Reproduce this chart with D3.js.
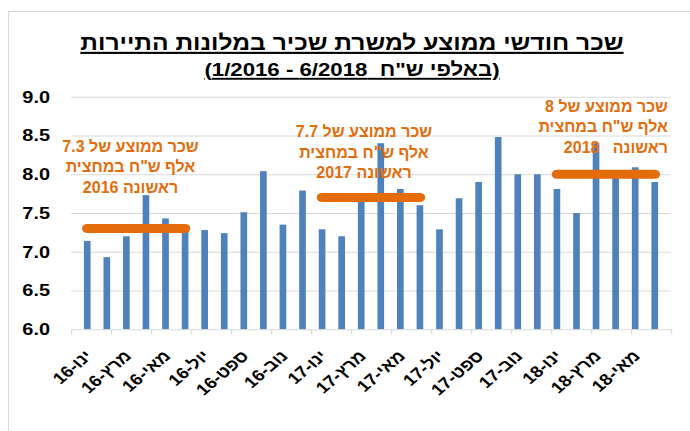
<!DOCTYPE html>
<html>
<head>
<meta charset="utf-8">
<script src="https://cdn.jsdelivr.net/npm/d3@7"></script>
<style>
  body { margin: 0; background: #fff; }
  text { font-family: "Liberation Sans", Arial, sans-serif; }
</style>
</head>
<body>
<div id="chart_div"></div>
<script>
// data
var months = ["ינו", "פבר", "מרץ", "אפר", "מאי", "יונ", "יול", "אוג", "ספט", "אוק", "נוב", "דצמ"];
var years = ["16", "17", "18"];
var categories = [];
years.forEach(function(yr) {
  months.forEach(function(m) { categories.push(m + "-" + yr); });
});
categories = categories.slice(0, 30); // 1/2016 - 6/2018

var wages = [7.14, 6.93, 7.20, 7.73, 7.43, 7.30, 7.28, 7.24, 7.51, 8.04, 7.35, 7.79,
             7.29, 7.20, 7.65, 8.40, 7.81, 7.60, 7.29, 7.69, 7.90, 8.48, 8.00, 8.00,
             7.81, 7.50, 8.40, 7.98, 8.09, 7.90];

// first-half averages
var avgValues = [7.3, 7.7, 8.0];
var avgFrom = ["ינו-16", "ינו-17", "ינו-18"];
var avgTo = ["יונ-16", "יונ-17", "יונ-18"];
var avgNotes = [
  ["שכר ממוצע של 7.3", "אלף ש\"ח במחצית", "ראשונה 2016"],
  ["שכר ממוצע של 7.7", "אלף ש\"ח במחצית", "ראשונה 2017"],
  ["שכר ממוצע של 8", "אלף ש\"ח במחצית", "ראשונה   2018"]
];

var yTicks = [6.0, 6.5, 7.0, 7.5, 8.0, 8.5, 9.0];
var titleText = "שכר חודשי ממוצע למשרת שכיר במלונות התיירות";
var subtitleText = "(באלפי ש\"ח  6/2018 - 1/2016)";

var data = categories.map(function(c, i) { return {cat: c, value: wages[i]}; });

// the chart part of the original is a bit stretched sideways
var S = 1.17;
function sx(px) { return px / S; }

var all_width = 690, all_height = 431;
var margin = {top: 96.7, right: 19, bottom: 101.7, left: 71};
var plotW = all_width - margin.left - margin.right,
    plotH = all_height - margin.top - margin.bottom;

var svg = d3.select("#chart_div")
  .append("svg")
    .attr("width", all_width)
    .attr("height", all_height);

// light frame like the excel chart area
svg.append("rect")
  .attr("x", 8.5).attr("y", 11.5)
  .attr("width", 720).attr("height", 440)
  .attr("fill", "#fff")
  .attr("stroke", "#d9d9d9");

var g = svg.append("g").attr("transform", "scale(" + S + ",1)");

var x = d3.scaleBand()
  .domain(categories)
  .range([sx(margin.left), sx(margin.left + plotW)])
  .padding(0.66);

var y = d3.scaleLinear()
  .domain([6, 9])
  .range([margin.top + plotH, margin.top]);

// gridlines
g.append("g")
  .attr("transform", "translate(" + sx(margin.left) + ",0)")
  .call(d3.axisLeft(y).tickValues(yTicks.slice(1)).tickSize(-sx(plotW)).tickFormat(""))
  .call(function(a) { a.select(".domain").remove(); })
  .selectAll("line").attr("stroke", "#d9d9d9");

// y labels
g.append("g")
  .attr("transform", "translate(" + sx(50) + ",0)")
  .call(d3.axisLeft(y).tickValues(yTicks).tickSize(0).tickPadding(0).tickFormat(d3.format(".1f")))
  .call(function(a) { a.select(".domain").remove(); })
  .selectAll("text")
    .attr("fill", "#000")
    .style("font-size", "17px")
    .style("font-weight", "bold")
    .style("font-family", "'Liberation Sans', Arial, sans-serif");

// bars
g.selectAll("bars")
  .data(data)
  .enter()
  .append("rect")
    .attr("x", function(d) { return x(d.cat); })
    .attr("width", x.bandwidth())
    .attr("y", function(d) { return y(d.value); })
    .attr("height", function(d) { return y(6) - y(d.value); })
    .attr("fill", "#4f81bd");

// x axis line with a tick every two months
var xi = d3.scaleLinear().domain([0, categories.length]).range(x.range());
g.append("g")
  .attr("transform", "translate(0," + y(6) + ")")
  .call(d3.axisBottom(xi).tickValues(d3.range(0, categories.length + 1, 2)).tickSize(5).tickSizeOuter(0).tickFormat(""))
  .call(function(a) {
    a.select(".domain").attr("stroke", "#d9d9d9");
    a.selectAll("line").attr("stroke", "#d9d9d9");
  });

// rotated month labels
g.selectAll("xlabels")
  .data(categories.filter(function(c, i) { return i % 2 === 0; }))
  .enter()
  .append("text")
    .attr("transform", function(d) {
      return "translate(" + (x(d) + x.bandwidth() / 2 + sx(6)) + ",357) rotate(-45)";
    })
    .attr("text-anchor", "end")
    .style("font-size", "16px")
    .style("font-weight", "bold")
    .attr("fill", "#000")
    .text(function(d) { return d; });

// average lines for the first half of each year
g.selectAll("avgLines")
  .data(avgValues)
  .enter()
  .append("line")
    .attr("x1", function(d, i) { return x(avgFrom[i]) + x.bandwidth() / 2; })
    .attr("x2", function(d, i) { return x(avgTo[i]) + x.bandwidth() / 2; })
    .attr("y1", function(d) { return y(d); })
    .attr("y2", function(d) { return y(d); })
    .attr("stroke", "#e46c0a")
    .attr("stroke-width", 9)
    .attr("stroke-linecap", "round");

// notes above the lines (text boxes, not stretched)
var notePos = [
  {x: 130.5, y: 151.5, anchor: "middle"},
  {x: 364, y: 137, anchor: "middle"},
  {x: 668, y: 111.7, anchor: "end"}
];
avgNotes.forEach(function(lines, i) {
  var t = svg.append("text")
    .attr("text-anchor", notePos[i].anchor)
    .attr("fill", "#e46c0a")
    .style("font-size", "16px")
    .style("font-weight", "bold")
    .style("white-space", "pre");
  lines.forEach(function(l, j) {
    t.append("tspan")
      .attr("x", notePos[i].x)
      .attr("y", notePos[i].y + j * 20.6)
      .text(l);
  });
});

// title
g.append("text")
  .attr("x", sx(352))
  .attr("y", 50)
  .attr("text-anchor", "middle")
  .attr("direction", "rtl")
  .style("font-size", "21px")
  .style("font-weight", "bold")
  .style("text-decoration", "underline")
  .text(titleText);

g.append("text")
  .attr("x", sx(352))
  .attr("y", 76)
  .attr("text-anchor", "middle")
  .attr("direction", "rtl")
  .style("font-size", "19px")
  .style("font-weight", "bold")
  .style("text-decoration", "underline")
  .style("white-space", "pre")
  .text(subtitleText);
</script>
</body>
</html>
